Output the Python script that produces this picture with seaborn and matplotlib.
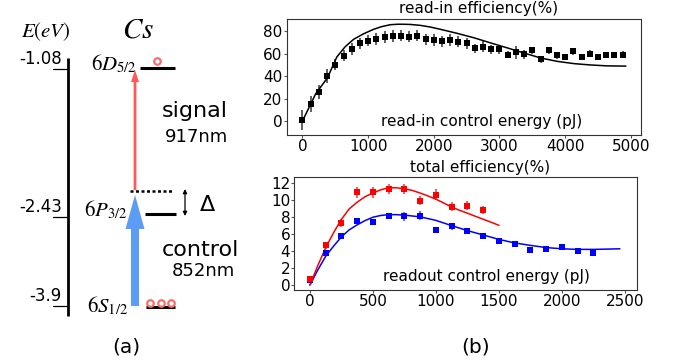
import numpy as np
import pandas as pd
import matplotlib
matplotlib.use("Agg")
import matplotlib.pyplot as plt
import seaborn as sns

# ---------------- data ----------------
readin_energy = [i * 125 for i in range(40)]
readin_eff = [1, 14.8, 26, 40, 50, 58, 64, 69, 71.5, 73, 74.7, 75.5, 76, 75, 76,
              72.6, 72, 71, 72, 70.5, 69, 64.6, 66, 64, 64, 59, 61, 59.5, 63, 55,
              63, 58.4, 57, 62, 57, 60, 57, 58.7, 58.7, 59]
readin_err = [9, 7, 6, 6, 5, 5, 5, 5, 5, 5, 5, 5, 5, 5, 5, 5, 5, 5, 5, 5, 5, 4, 5,
              4, 4, 3, 6, 4, 3, 3, 3, 3, 3, 3, 3, 3, 3, 3, 3, 3]
readin_fit_x = [0, 100, 200, 381, 524, 650, 778, 930, 1083, 1200, 1338, 1450, 1541,
                1650, 1795, 1950, 2100, 2350, 2609, 2860, 3118, 3370, 3627, 3880,
                4135, 4390, 4644, 4924]
readin_fit_y = [0, 12, 24, 38.5, 57, 66, 72.6, 77.5, 81.5, 83.8, 85.6, 86, 86,
                85.8, 85, 83.5, 81.5, 78, 74, 69.5, 65, 60.5, 56, 53, 51, 49.8, 49, 48.8]

out_energy = [i * 125 for i in range(19)]
red_eff = [0.7, 4.65, 7.3, 10.85, 10.85, 11.3, 11.3, 9.9, 10.6, 9.2, 9.3, 8.8]
red_err = [0.2, 0.4, 0.5, 0.6, 0.6, 0.6, 0.6, 0.5, 0.6, 0.5, 0.5, 0.5]
blue_eff = [0.6, 3.7, 5.7, 7.5, 7.4, 8.1, 8.05, 8.15, 6.4, 6.9, 6.3, 5.8, 5.2,
            4.85, 4.1, 4.25, 4.45, 3.95, 3.8]
blue_err = [0.2, 0.3, 0.3, 0.4, 0.4, 0.4, 0.5, 0.5, 0.3, 0.4, 0.3, 0.3, 0.3,
            0.3, 0.2, 0.3, 0.3, 0.3, 0.3]
red_fit_x = [0, 60, 126, 190, 250, 310, 374, 437, 500, 560, 621, 684, 747, 810,
             871, 935, 995, 1057, 1118, 1180, 1245, 1306, 1368, 1440, 1500]
red_fit_y = [0, 2.2, 4.4, 6.2, 7.7, 8.9, 9.7, 10.35, 10.8, 11.15, 11.4, 11.4, 11.3,
             11.1, 10.8, 10.45, 10.1, 9.65, 9.2, 8.8, 8.45, 8.1, 7.75, 7.35, 7.0]
blue_fit_x = [0, 60, 126, 190, 250, 310, 374, 437, 500, 560, 621, 684, 747, 871,
              995, 1118, 1245, 1368, 1500, 1620, 1750, 1870, 2000, 2120, 2250,
              2380, 2460]
blue_fit_y = [0, 1.7, 3.4, 4.6, 5.65, 6.45, 7.05, 7.55, 7.95, 8.15, 8.25, 8.25,
              8.2, 8.0, 7.6, 7.0, 6.4, 5.9, 5.35, 4.95, 4.65, 4.4, 4.25, 4.18,
              4.18, 4.22, 4.25]

energies = ["-1.08", "-2.43", "-3.9"]
level_names = [r"$6D_{5/2}$", r"$6P_{3/2}$", r"$6S_{1/2}$"]

# ---------------- style ----------------
sns.set_theme(style="white")
plt.rcParams["font.family"] = ["DejaVu Sans"]
plt.rcParams["mathtext.fontset"] = "stix"
plt.rcParams["text.color"] = "black"
plt.rcParams["xtick.color"] = "black"
plt.rcParams["ytick.color"] = "black"
plt.rcParams["axes.labelcolor"] = "black"

fig = plt.figure(figsize=(6.73, 3.64), dpi=100)

# ---------------- right: read-in ----------------
ax1 = fig.add_axes([286.7 / 673, 1 - 135.3 / 364, 354 / 673, 116 / 364])
ax1.errorbar(readin_energy, readin_eff, yerr=readin_err, fmt="none",
             ecolor="#444444", elinewidth=1.2, zorder=2)
sns.lineplot(x=readin_fit_x, y=readin_fit_y, ax=ax1, color="black", lw=1.1,
             zorder=3)
sns.scatterplot(x=readin_energy, y=readin_eff, ax=ax1, marker="s", s=15,
                color="black", edgecolor="black", linewidth=0, zorder=4)
ax1.set_xlim(-240, 5150)
ax1.set_ylim(-12.7, 90.4)
ax1.set_xticks([0, 1000, 2000, 3000, 4000, 5000])
ax1.set_yticks([0, 20, 40, 60, 80])
ax1.text(0.543, 1.097, "read-in efficiency(%)", transform=ax1.transAxes,
         ha="center", va="center", fontsize=11)
ax1.text(0.551, 0.115, "read-in control energy (pJ)", transform=ax1.transAxes,
         ha="center", va="center", fontsize=11)

# ---------------- right: total ----------------
ax2 = fig.add_axes([294.3 / 673, 1 - 290 / 364, 343 / 673, 113.3 / 364])
ax2.errorbar(out_energy[:len(blue_eff)], blue_eff, yerr=blue_err, fmt="none",
             ecolor="#3344ff", elinewidth=1.1, zorder=2)
ax2.errorbar(out_energy[:len(red_eff)], red_eff, yerr=red_err, fmt="none",
             ecolor="#ff3333", elinewidth=1.1, zorder=2)
sns.lineplot(x=blue_fit_x, y=blue_fit_y, ax=ax2, color="blue", lw=1.1, zorder=3)
sns.lineplot(x=red_fit_x, y=red_fit_y, ax=ax2, color="red", lw=1.1, zorder=3)
sns.scatterplot(x=out_energy[:len(blue_eff)], y=blue_eff, ax=ax2, marker="s",
                s=18, color="blue", linewidth=0, zorder=4)
sns.scatterplot(x=out_energy[:len(red_eff)], y=red_eff, ax=ax2, marker="s",
                s=18, color="red", linewidth=0, zorder=5)
ax2.set_xlim(-124, 2598)
ax2.set_ylim(-0.58, 12.7)
ax2.set_xticks([0, 500, 1000, 1500, 2000, 2500])
ax2.set_yticks([0, 2, 4, 6, 8, 10, 12])
ax2.text(0.543, 1.077, "total efficiency(%)", transform=ax2.transAxes,
         ha="center", va="center", fontsize=11)
ax2.text(0.561, 0.117, "readout control energy (pJ)", transform=ax2.transAxes,
         ha="center", va="center", fontsize=11)

for ax in (ax1, ax2):
    for sp in ax.spines.values():
        sp.set_color("#333333")
        sp.set_linewidth(0.8)
    ax.tick_params(axis="both", which="major", labelsize=11, length=2,
                   width=0.8, color="#555555", pad=1, direction="out",
                   bottom=True, left=True, labelcolor="black")
    ax.set_xlabel("")
    ax.set_ylabel("")

# ---------------- left: level diagram (pixel coordinates) ----------------
W = 0.4 * 673
ax0 = fig.add_axes([0, 0, 0.4, 1])
ax0.set_xlim(0, W)
ax0.set_ylim(364, 0)
ax0.axis("off")

level_y = [68, 214, 307]
tick_y = [69, 217, 306]
ax0.plot([68, 68], [58, 316], color="black", lw=2.0, solid_capstyle="butt")
for ty, lab in zip(tick_y, energies):
    ax0.plot([53, 68], [ty, ty], color="black", lw=0.9)
    ax0.text(62, ty - 1, lab, ha="right", va="bottom", fontsize=12)

ax0.text(46, 32, r"$E(eV)$", ha="center", va="center", fontsize=15)
ax0.text(138, 30, r"$Cs$", ha="center", va="center", fontsize=21)

lines_x = [(140, 175), (145, 176), (146, 175)]
label_x = [137, 127, 128]
label_y = [64, 210, 306]
for (x0, x1), ly, nm, lx, lyy in zip(lines_x, level_y, level_names, label_x, label_y):
    ax0.plot([x0, x1], [ly, ly], color="black", lw=2.2, solid_capstyle="butt")
    ax0.text(lx, lyy, nm, ha="right", va="center", fontsize=15)

# virtual level
ax0.plot([130, 173], [191, 191], color="black", lw=1.8, ls=(0, (1.2, 1.0)))

# arrows
ax0.arrow(135, 190, 0, -120, width=2.8, head_width=8, head_length=12,
          length_includes_head=True, color="#ff5a5a", lw=0)
ax0.arrow(135, 306, 0, -111, width=8, head_width=19, head_length=34,
          length_includes_head=True, color="#5b9cf5", lw=0)
ax0.annotate("", xy=(185, 189), xytext=(185, 216),
             arrowprops=dict(arrowstyle="<|-|>", color="black", lw=0.9,
                             mutation_scale=6, shrinkA=0, shrinkB=0))
ax0.text(200, 205, "Δ", ha="left", va="center", fontsize=16)

# populations
ax0.scatter([157], [61], s=22, facecolor="white", edgecolor="#ff6b6b",
            linewidth=1.6, zorder=5)
ax0.scatter([150, 161, 171], [303, 303, 303], s=22, facecolor="white",
            edgecolor="#ff6b6b", linewidth=1.6, zorder=5)

ax0.text(162, 111, "signal", ha="left", va="center", fontsize=16)
ax0.text(165, 137, "917nm", ha="left", va="center", fontsize=13)
ax0.text(162, 250, "control", ha="left", va="center", fontsize=16)
ax0.text(172, 271, "852nm", ha="left", va="center", fontsize=13)
ax0.text(126, 347, "(a)", ha="center", va="center", fontsize=14.5)

fig.text(476 / 673, 1 - 347 / 364, "(b)", ha="center", va="center", fontsize=14.5)

fig.savefig("out.png", dpi=100)
